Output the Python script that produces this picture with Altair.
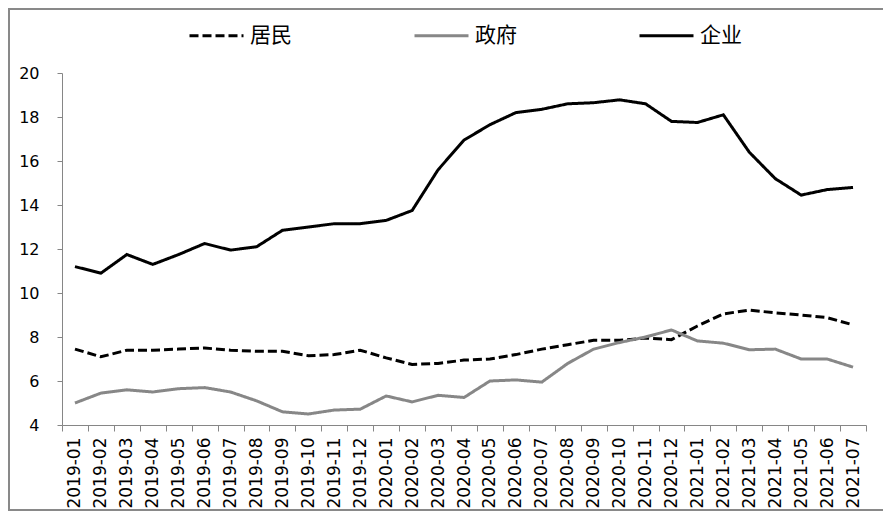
import altair as alt
import pandas as pd

months = [
    "2019-01", "2019-02", "2019-03", "2019-04", "2019-05", "2019-06", "2019-07",
    "2019-08", "2019-09", "2019-10", "2019-11", "2019-12",
    "2020-01", "2020-02", "2020-03", "2020-04", "2020-05", "2020-06", "2020-07",
    "2020-08", "2020-09", "2020-10", "2020-11", "2020-12",
    "2021-01", "2021-02", "2021-03", "2021-04", "2021-05", "2021-06", "2021-07",
]
series_names = ["居民", "政府", "企业"]

resident = [7.45, 7.1, 7.4, 7.4, 7.45, 7.5, 7.4, 7.35, 7.35, 7.15, 7.2, 7.4,
            7.05, 6.75, 6.8, 6.95, 7.0, 7.2, 7.45, 7.65, 7.85, 7.85, 7.95, 7.88,
            8.5, 9.05, 9.22, 9.1, 9.0, 8.88, 8.55]
government = [5.0, 5.45, 5.6, 5.5, 5.65, 5.7, 5.5, 5.1, 4.6, 4.5, 4.68, 4.72,
              5.32, 5.05, 5.35, 5.25, 6.0, 6.05, 5.95, 6.8, 7.45, 7.75, 8.0, 8.32,
              7.82, 7.72, 7.42, 7.45, 7.0, 7.0, 6.63]
enterprise = [11.2, 10.9, 11.75, 11.3, 11.75, 12.25, 11.95, 12.1, 12.85, 13.0, 13.15, 13.15,
              13.3, 13.75, 15.6, 16.95, 17.65, 18.2, 18.35, 18.6, 18.65, 18.78, 18.6, 17.8,
              17.75, 18.1, 16.4, 15.2, 14.45, 14.7, 14.8]

rows = []
for name, vals in zip(series_names, [resident, government, enterprise]):
    for m, v in zip(months, vals):
        rows.append({"month": m, "series": name, "value": v})
df = pd.DataFrame(rows)

W, H = 804, 352

legend_cfg = dict(title=None, orient="none", direction="horizontal",
                  legendX=126, legendY=-66,
                  symbolType="stroke", symbolSize=2916,
                  symbolStrokeWidth=3, labelFont="Noto Sans CJK SC",
                  labelFontSize=21, labelColor="#000000",
                  labelOffset=5, columnPadding=116, padding=0)

lines = alt.Chart(df).mark_line(strokeWidth=3).encode(
    x=alt.X("month:O", sort=months, bandPosition=0.5,
            scale=alt.Scale(type="band", paddingInner=0, paddingOuter=0),
            axis=alt.Axis(title=None, labelAngle=-90, tickBand="extent",
                          labelFont="DejaVu Sans", labelFontSize=17, labelColor="#000000",
                          labelPadding=6, tickSize=6, tickColor="#868686",
                          domainColor="#868686", grid=False)),
    y=alt.Y("value:Q", scale=alt.Scale(domain=[4, 20], nice=False, zero=False),
            axis=alt.Axis(title=None, values=[4, 6, 8, 10, 12, 14, 16, 18, 20],
                          labelFont="DejaVu Sans", labelFontSize=16, labelColor="#000000",
                          labelPadding=18, tickSize=5, tickColor="#868686",
                          domainColor="#868686", grid=False)),
    color=alt.Color("series:N",
                    scale=alt.Scale(domain=series_names, range=["#000000", "#878787", "#000000"]),
                    legend=alt.Legend(**legend_cfg)),
    strokeDash=alt.StrokeDash("series:N",
                              scale=alt.Scale(domain=series_names,
                                              range=[[9, 4], [1, 0], [1, 0]]),
                              legend=alt.Legend(**legend_cfg)),
)

border = alt.Chart(alt.Data(values=[{"k": 1}])).mark_rect(
    fill=None, stroke="#898989", strokeWidth=2
).encode(
    x=alt.value(-53), x2=alt.value(W + 20),
    y=alt.value(-64), y2=alt.value(H + 85),
)

chart = alt.layer(lines, border).properties(
    width=W, height=H,
    autosize=alt.AutoSizeParams(type="none"),
    padding={"left": 54, "top": 65, "right": 17, "bottom": 86},
).configure_view(stroke=None)

chart.save("out.html", embed_options={"renderer": "svg", "actions": False})
